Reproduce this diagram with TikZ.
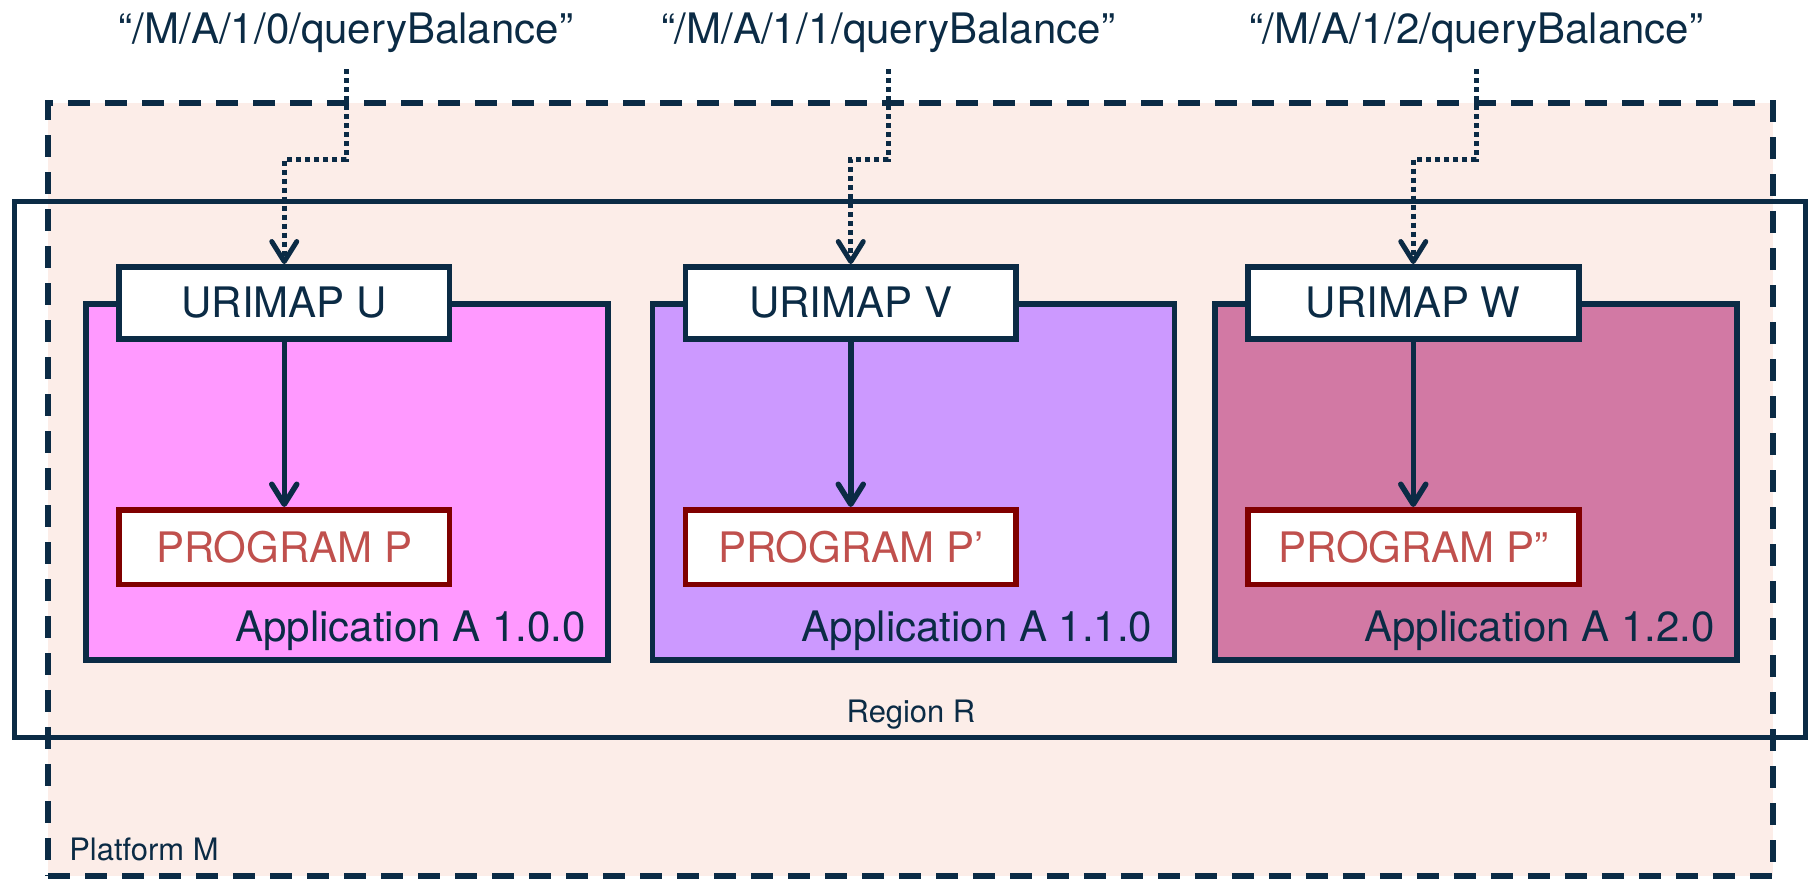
\documentclass[tikz,border=0pt]{standalone}
\usepackage{fontspec}
\setmainfont{TeX Gyre Heros}
\usetikzlibrary{arrows.meta, positioning}
\definecolor{navy}{RGB}{11,43,69}
\definecolor{platfill}{RGB}{252,237,232}
\definecolor{appU}{RGB}{255,153,255}
\definecolor{appV}{RGB}{204,153,255}
\definecolor{appW}{RGB}{210,121,164}
\definecolor{progline}{RGB}{128,0,0}
\definecolor{progtext}{RGB}{192,80,77}

\begin{document}
\begin{tikzpicture}[x=0.02cm, y=-0.02cm]
        % styles %
        \tikzstyle{platformbox} = [rectangle, fill=platfill, draw=navy, line width=0.11cm, dash pattern=on 0.44cm off 0.3cm, outer sep=0];
        \tikzstyle{regionbox} = [rectangle, draw=navy, line width=0.1cm, outer sep=0];
        \tikzstyle{appbox} = [rectangle, draw=navy, line width=0.11cm, minimum width=10.44cm, minimum height=7.12cm, outer sep=0];
        \tikzstyle{urimap} = [rectangle, draw=navy, fill=white, line width=0.11cm, minimum width=6.62cm, minimum height=1.44cm, text=navy, font=\fontsize{23.9}{28}\selectfont];
        \tikzstyle{program} = [rectangle, draw=progline, fill=white, line width=0.11cm, minimum width=6.62cm, minimum height=1.5cm, text=progtext, font=\fontsize{23.9}{28}\selectfont];
        \tikzstyle{applabel} = [inner sep=0, anchor=base east, text=navy, font=\fontsize{23.9}{28}\selectfont];
        \tikzstyle{query} = [anchor=base, text=navy, font=\fontsize{23.9}{28}\selectfont];
        \tikzstyle{small} = [inner sep=0, text=navy, font=\fontsize{17.6}{21}\selectfont];
        \tikzstyle{mapdep} = [-{Straight Barb[length=0.4cm, width=0.5cm, round]}, draw=navy, line width=0.11cm];
        \tikzstyle{querydep} = [-{Straight Barb[length=0.4cm, width=0.5cm, round]}, draw=navy, line width=0.1cm, dash pattern=on 0.1cm off 0.08cm, shorten <=0.22cm];

        \useasboundingbox (0,0) rectangle (1808,879);

        % containers %
        \node [platformbox, minimum width=34.5cm, minimum height=15.46cm] (platform) at (910.5,489.5) {};
        \node [regionbox, minimum width=35.84cm, minimum height=10.74cm] (region) at (910,469.5) {};
        \node [small, anchor=base] (regionlbl) at (911,722) {Region R};
        \node [small, anchor=base west] (platformlbl) at (69,860) {Platform M};

        % applications %
        \node [appbox, fill=appU] (appU) at (347,482) {};
        \node [appbox, fill=appV] (appV) at (913.5,482) {};
        \node [appbox, fill=appW] (appW) at (1476,482) {};

        \node [urimap, anchor=north west] (urU) at ([xshift=0.6cm, yshift=0.8cm]appU.north west) {URIMAP U};
        \node [urimap, anchor=north west] (urV) at ([xshift=0.6cm, yshift=0.8cm]appV.north west) {URIMAP V};
        \node [urimap, anchor=north west] (urW) at ([xshift=0.6cm, yshift=0.8cm]appW.north west) {URIMAP W};

        \node [program, anchor=north west] (prU) at ([xshift=0.6cm, yshift=-4.06cm]appU.north west) {PROGRAM P};
        \node [program, anchor=north west] (prV) at ([xshift=0.6cm, yshift=-4.06cm]appV.north west) {PROGRAM P’};
        \node [program, anchor=north west] (prW) at ([xshift=0.6cm, yshift=-4.06cm]appW.north west) {PROGRAM P”};

        \node [applabel] (lblU) at ([xshift=-0.44cm, yshift=0.36cm]appU.south east) {Application A 1.0.0};
        \node [applabel] (lblV) at ([xshift=-0.44cm, yshift=0.36cm]appV.south east) {Application A 1.1.0};
        \node [applabel] (lblW) at ([xshift=-0.44cm, yshift=0.36cm]appW.south east) {Application A 1.2.0};

        % queries %
        \node [query] (qU) at (346,43) {“/M/A/1/0/queryBalance”};
        \node [query] (qV) at (888,43) {“/M/A/1/1/queryBalance”};
        \node [query] (qW) at (1476,43) {“/M/A/1/2/queryBalance”};

        % edges %
        \draw [querydep] (qU.south) -- ++(0,101) -| (urU.north);
        \draw [querydep] (qV.south) -- ++(0,101) -| (urV.north);
        \draw [querydep] (qW.south) -- ++(0,101) -| (urW.north);
        \path [mapdep] (urU) edge (prU)
                       (urV) edge (prV)
                       (urW) edge (prW);
\end{tikzpicture}
\end{document}
